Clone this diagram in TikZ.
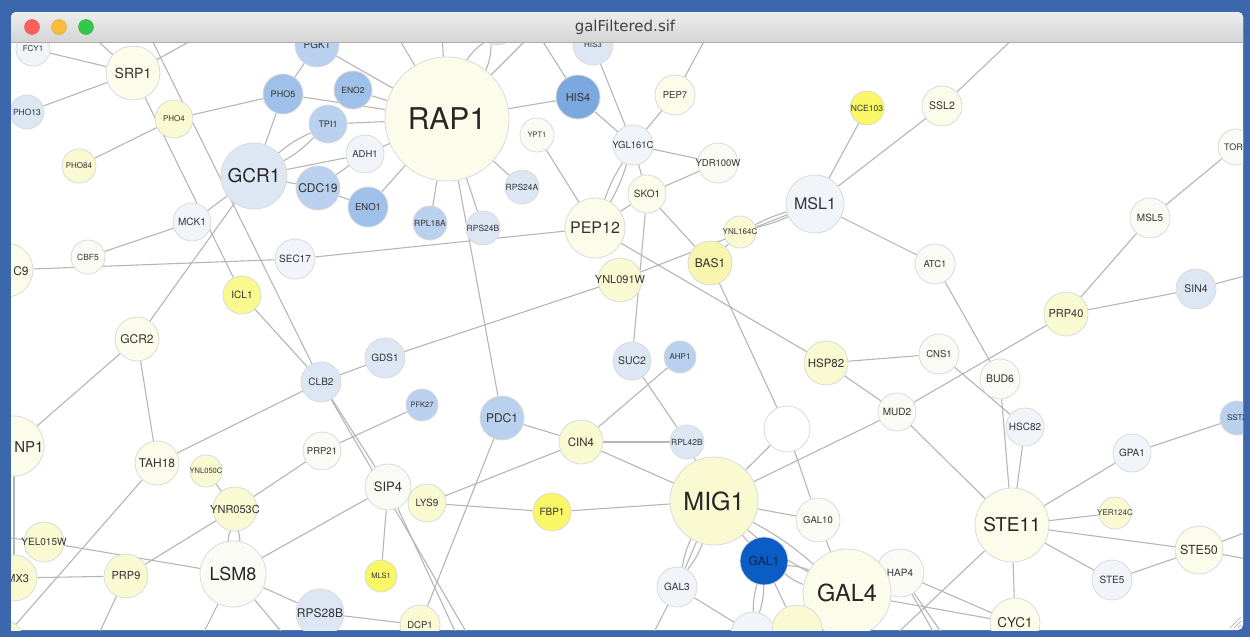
\documentclass[tikz,border=0pt]{standalone}
\usepackage{fontspec}
\setmainfont{TeX Gyre Heros}
\newfontfamily\titlefont{DejaVu Sans}
\newcommand\fs[1]{\fontsize{#1}{#1}\selectfont}
\pgfdeclarelayer{back}
\pgfdeclarelayer{edges}
\pgfsetlayers{back,edges,main}
\definecolor{winblue}{HTML}{3D67AC}
\definecolor{edgec}{HTML}{B6B6B6}
\definecolor{nline}{HTML}{DADADA}
\definecolor{txt}{HTML}{333333}
\definecolor{titletop}{HTML}{EDEDED}
\definecolor{titlebot}{HTML}{D4D4D4}
\definecolor{titleline}{HTML}{ADADAD}
\definecolor{lred}{HTML}{FC605C}
\definecolor{lyellow}{HTML}{FDBC40}
\definecolor{lgreen}{HTML}{34C84A}
\definecolor{y0}{HTML}{FBFBF6}
\definecolor{y1}{HTML}{FCFCEA}
\definecolor{y2}{HTML}{FAFAD2}
\definecolor{y3}{HTML}{F7F5AE}
\definecolor{y4}{HTML}{F9F766}
\definecolor{y5}{HTML}{FAF98E}
\definecolor{b0}{HTML}{F1F4F9}
\definecolor{b1}{HTML}{DDE7F4}
\definecolor{b2}{HTML}{B9D0EE}
\definecolor{b3}{HTML}{9FC1E9}
\definecolor{b4}{HTML}{7CA8E0}
\definecolor{b5}{HTML}{0C5CC6}
\begin{document}
\begin{tikzpicture}[x=1pt,y=-1pt,line cap=round,line join=round,
  gn/.style={circle,draw=nline,line width=0.8pt,fill=#1,inner sep=0pt,text=txt,
    execute at begin node={\hbox to 0pt\bgroup\hss},execute at end node={\hss\egroup}},
  sz/.style 2 args={minimum size=#1,font=\fs{#2}},
  big/.style={text=black!85},
  edge/.style={draw=edgec,line width=1.1pt},
  light/.style={circle,minimum size=15,inner sep=0pt,fill=#1,draw=#1!85!black,line width=0.4pt}]
\useasboundingbox (0,0) rectangle (1250,637);
\begin{pgfonlayer}{back}
\fill[winblue] (0,0) rectangle (1250,637);
\fill[white,rounded corners=5pt] (11,12) rectangle (1243,630);
\end{pgfonlayer}
\begin{scope}
\clip (11,43) rectangle (1243,630);
\node[gn=b0,sz={34}{8}] (fcy1) at (33,49) {FCY1};
\node[gn=y1,sz={54}{14}] (srp1) at (133,73) {SRP1};
\node[gn=b1,sz={34}{8.5}] (pho13) at (27,112) {PHO13};
\node[gn=y2,sz={38}{8}] (pho4) at (174,119) {PHO4};
\node[gn=y2,sz={34}{8}] (pho84) at (79,166) {PHO84};
\node[gn=b2,sz={44}{10}] (pgk1) at (317,45) {PGK1};
\node[gn=b3,sz={40}{9}] (pho5) at (283,94) {PHO5};
\node[gn=b3,sz={38}{8.5}] (eno2) at (353,90) {ENO2};
\node[gn=b2,sz={38}{9}] (tpi1) at (328,124) {TPI1};
\node[gn=b0,sz={38}{9.5}] (adh1) at (365,154) {ADH1};
\node[gn=b1,sz={66}{19},big] (gcr1) at (254,176) {GCR1};
\node[gn=b2,sz={44}{12}] (cdc19) at (318,188) {CDC19};
\node[gn=b3,sz={40}{9.5}] (eno1) at (368,207) {ENO1};
\node[gn=y1,sz={124}{30},big] (rap1) at (447,119) {RAP1};
\node[gn=b1,sz={36}{8}] (hid1) at (497,27) {};
\node[gn=b1,sz={40}{8}] (his3) at (593,45) {HIS3};
\node[gn=b4,sz={44}{11}] (his4) at (578,97) {HIS4};
\node[gn=y1,sz={40}{9.5}] (pep7) at (675,95) {PEP7};
\node[gn=y0,sz={34}{7.5}] (ypt1) at (537,135) {YPT1};
\node[gn=b0,sz={40}{9.5}] (ygl161c) at (633,145) {YGL161C};
\node[gn=y0,sz={40}{9.5}] (ydr100w) at (718,163) {YDR100W};
\node[gn=b1,sz={34}{8.5}] (rps24a) at (522,187) {RPS24A};
\node[gn=b2,sz={34}{8.5}] (rpl18a) at (430,223) {RPL18A};
\node[gn=b1,sz={34}{8.5}] (rps24b) at (483,228) {RPS24B};
\node[gn=y1,sz={38}{10}] (sko1) at (647,194) {SKO1};
\node[gn=y1,sz={60}{16}] (pep12) at (595,228) {PEP12};
\node[gn=b0,sz={58}{16}] (msl1) at (815,204) {MSL1};
\node[gn=y2,sz={32}{8}] (ynl164c) at (740,232) {YNL164C};
\node[gn=y3,sz={44}{12}] (bas1) at (710,263) {BAS1};
\node[gn=y2,sz={44}{11}] (ynl091w) at (620,280) {YNL091W};
\node[gn=y4,sz={34}{8.5}] (nce103) at (867,108) {NCE103};
\node[gn=y1,sz={40}{10.5}] (ssl2) at (942,106) {SSL2};
\node[gn=y0,sz={36}{9}] (tor1) at (1236,147) {TOR1};
\node[gn=y0,sz={40}{10}] (msl5) at (1150,218) {MSL5};
\node[gn=y0,sz={40}{9.5}] (atc1) at (935,264) {ATC1};
\node[gn=b1,sz={40}{10.5}] (sin4) at (1196,289) {SIN4};
\node[gn=y2,sz={44}{11}] (prp40) at (1066,314) {PRP40};
\node[gn=y2,sz={44}{11.5}] (hsp82) at (826,363) {HSP82};
\node[gn=y0,sz={40}{9.5}] (cns1) at (939,354) {CNS1};
\node[gn=y0,sz={40}{10.5}] (bud6) at (1000,379) {BUD6};
\node[gn=y0,sz={38}{10}] (mud2) at (897,412) {MUD2};
\node[gn=b0,sz={38}{10}] (hsc82) at (1025,427) {HSC82};
\node[gn=b2,sz={34}{8}] (sst2) at (1237,418) {SST2};
\node[gn=b0,sz={38}{10}] (gpa1) at (1132,453) {GPA1};
\node[gn=y2,sz={32}{8}] (yer124c) at (1115,513) {YER124C};
\node[gn=y1,sz={74}{19},big] (ste11) at (1012,525) {STE11};
\node[gn=y1,sz={48}{12.5}] (ste50) at (1199,550) {STE50};
\node[gn=b0,sz={40}{10}] (ste5) at (1112,580) {STE5};
\node[gn=y1,sz={50}{13.5}] (cyc1) at (1015,623) {CYC1};
\node[gn=y0,sz={48}{10}] (hap4) at (900,573) {HAP4};
\node[gn=y1,sz={88}{23.5},big] (gal4) at (847,593) {GAL4};
\node[gn=y0,sz={44}{9.5}] (gal10) at (818,520) {GAL10};
\node[gn=white,sz={46}{9}] (nx) at (787,429) {};
\node[gn=b1,sz={34}{8.5}] (rpl42b) at (687,442) {RPL42B};
\node[gn=y2,sz={88}{25},big] (mig1) at (714,501) {MIG1};
\node[gn=b5,sz={48}{12},text=b5!40!black] (gal1) at (764,561) {GAL1};
\node[gn=b0,sz={40}{10}] (gal3) at (677,587) {GAL3};
\node[gn=b0,sz={44}{9}] (gal80) at (753,634) {};
\node[gn=y2,sz={50}{9}] (gal7) at (797,630) {};
\node[gn=b2,sz={44}{12}] (pdc1) at (502,418) {PDC1};
\node[gn=y2,sz={44}{11.5}] (cin4) at (581,442) {CIN4};
\node[gn=b1,sz={38}{10.5}] (suc2) at (632,361) {SUC2};
\node[gn=b2,sz={32}{8}] (ahp1) at (680,357) {AHP1};
\node[gn=b2,sz={32}{7.5}] (pfk27) at (422,405) {PFK27};
\node[gn=y4,sz={38}{10}] (fbp1) at (552,512) {FBP1};
\node[gn=y2,sz={38}{10}] (lys9) at (427,503) {LYS9};
\node[gn=y0,sz={46}{13}] (sip4) at (388,487) {SIP4};
\node[gn=y4,sz={32}{7.5}] (mls1) at (381,576) {MLS1};
\node[gn=y2,sz={40}{9.5}] (dcp1) at (420,625) {DCP1};
\node[gn=b1,sz={48}{12}] (rps28b) at (320,613) {RPS28B};
\node[gn=y0,sz={66}{18},big] (lsm8) at (233,574) {LSM8};
\node[gn=y2,sz={44}{11}] (ynr053c) at (235,509) {YNR053C};
\node[gn=y2,sz={32}{7.5}] (ynl050c) at (206,471) {YNL050C};
\node[gn=y0,sz={38}{9.5}] (prp21) at (322,451) {PRP21};
\node[gn=y1,sz={44}{12}] (tah18) at (157,463) {TAH18};
\node[gn=y2,sz={44}{11}] (prp9) at (126,576) {PRP9};
\node[gn=y2,sz={40}{10}] (yel015w) at (44,542) {YEL015W};
\node[gn=y2,sz={46}{11}] (smx3) at (14,578) {SMX3};
\node[gn=y1,sz={60}{16}] (snp1) at (14,446) {};
\node[gn=y1,sz={54}{13}] (sec9) at (6,270) {};
\node[gn=y0,sz={34}{8.5}] (cbf5) at (88,257) {CBF5};
\node[gn=b0,sz={38}{10}] (mck1) at (192,222) {MCK1};
\node[gn=b0,sz={40}{10}] (sec17) at (295,259) {SEC17};
\node[gn=y5,sz={38}{10}] (icl1) at (242,295) {ICL1};
\node[gn=y1,sz={44}{12}] (gcr2) at (137,339) {GCR2};
\node[gn=b1,sz={40}{10}] (clb2) at (321,382) {CLB2};
\node[gn=b1,sz={40}{10}] (gds1) at (385,358) {GDS1};
\node[gn=y2,sz={36}{9}] (cnr) at (4,638) {};
\node[font=\fs{15},text=txt,inner sep=0pt] (snp1text) at (29,447) {NP1};
\node[font=\fs{12},text=txt,inner sep=0pt] (sec9text) at (21,271) {C9};
\end{scope}
\coordinate (t1) at (90,34);
\coordinate (t2) at (203,34);
\coordinate (t3) at (149,34);
\coordinate (t4) at (396,34);
\coordinate (t5) at (442,34);
\coordinate (t6) at (532,34);
\coordinate (t7) at (538,34);
\coordinate (t8) at (708,34);
\coordinate (t9) at (1018,34);
\coordinate (r1) at (1252,274);
\coordinate (r2) at (1252,530);
\coordinate (r3) at (1252,560);
\coordinate (l1) at (2,537);
\coordinate (b1) at (472,642);
\coordinate (b2) at (460,642);
\coordinate (b3) at (888,642);
\coordinate (b4) at (199,642);
\coordinate (b5) at (290,642);
\coordinate (b6) at (95,642);
\coordinate (b7) at (649,642);
\coordinate (b8) at (939,642);
\coordinate (b9) at (948,642);
\begin{pgfonlayer}{edges}
\clip (11,43) rectangle (1243,630);
\draw[edge] (fcy1) -- (srp1);
\draw[edge] (srp1) -- (t1);
\draw[edge] (srp1) -- (t2);
\draw[edge] (srp1) -- (pho13);
\draw[edge] (srp1) -- (icl1);
\draw[edge] (t3) -- (clb2);
\draw[edge] (pho4) -- (pho84);
\draw[edge] (pho4) -- (pho5);
\draw[edge] (pho5) -- (pgk1);
\draw[edge] (pho5) -- (gcr1);
\draw[edge] (pho5) -- (rap1);
\draw[edge] (pgk1) -- (rap1);
\draw[edge] (eno2) -- (rap1);
\draw[edge] (tpi1) -- (rap1);
\draw[edge] (gcr1) to[bend left=8] (tpi1);
\draw[edge] (gcr1) to[bend right=8] (tpi1);
\draw[edge] (gcr1) -- (adh1);
\draw[edge] (adh1) -- (rap1);
\draw[edge] (gcr1) -- (cdc19);
\draw[edge] (cdc19) -- (adh1);
\draw[edge] (cdc19) -- (eno1);
\draw[edge] (eno1) -- (rap1);
\draw[edge] (gcr1) -- (mck1);
\draw[edge] (gcr1) -- (gcr2);
\draw[edge] (rap1) -- (rpl18a);
\draw[edge] (rap1) -- (rps24b);
\draw[edge] (rap1) -- (rps24a);
\draw[edge] (rap1) -- (his4);
\draw[edge] (rap1) -- (t4);
\draw[edge] (rap1) -- (t5);
\draw[edge] (rap1) to[bend left=10] (hid1);
\draw[edge] (rap1) to[bend right=10] (hid1);
\draw[edge] (rap1) -- (t6);
\draw[edge] (rap1) -- (pdc1);
\draw[edge] (his4) -- (t7);
\draw[edge] (his4) -- (ygl161c);
\draw[edge] (his3) -- (ygl161c);
\draw[edge] (pep7) -- (ygl161c);
\draw[edge] (pep7) -- (t8);
\draw[edge] (ygl161c) -- (ydr100w);
\draw[edge] (ygl161c) to[bend left=6] (pep12);
\draw[edge] (ygl161c) to[bend right=6] (pep12);
\draw[edge] (ygl161c) -- (sko1);
\draw[edge] (ypt1) -- (pep12);
\draw[edge] (sko1) -- (pep12);
\draw[edge] (sko1) -- (ydr100w);
\draw[edge] (sko1) -- (suc2);
\draw[edge] (sko1) -- (bas1);
\draw[edge] (msl1) to[bend left=5] (ynl164c);
\draw[edge] (msl1) to[bend right=5] (ynl164c);
\draw[edge] (msl1) -- (ynl091w);
\draw[edge] (ynl164c) -- (bas1);
\draw[edge] (pep12) -- (hsp82);
\draw[edge] (bas1) -- (nx);
\draw[edge] (msl1) -- (nce103);
\draw[edge] (msl1) -- (ssl2);
\draw[edge] (ssl2) -- (t9);
\draw[edge] (msl1) -- (atc1);
\draw[edge] (atc1) -- (bud6);
\draw[edge] (prp40) -- (msl5);
\draw[edge] (prp40) -- (sin4);
\draw[edge] (sin4) -- (r1);
\draw[edge] (msl5) -- (tor1);
\draw[edge] (prp40) -- (mud2);
\draw[edge] (hsp82) -- (cns1);
\draw[edge] (hsp82) -- (mud2);
\draw[edge] (cns1) -- (hsc82);
\draw[edge] (bud6) -- (ste11);
\draw[edge] (hsc82) -- (ste11);
\draw[edge] (mud2) -- (ste11);
\draw[edge] (mud2) -- (mig1);
\draw[edge] (nx) -- (mig1);
\draw[edge] (nx) -- (gal10);
\draw[edge] (gpa1) -- (ste11);
\draw[edge] (gpa1) -- (sst2);
\draw[edge] (ste11) -- (yer124c);
\draw[edge] (ste11) -- (ste50);
\draw[edge] (ste11) -- (ste5);
\draw[edge] (ste5) -- (ste50);
\draw[edge] (ste11) -- (cyc1);
\draw[edge] (ste50) -- (r2);
\draw[edge] (ste50) -- (r3);
\draw[edge] (ste11) -- (b3);
\draw[edge] (gal4) -- (cyc1);
\draw[edge] (hap4) -- (cyc1);
\draw[edge] (hap4) -- (b8);
\draw[edge] (hap4) -- (b9);
\draw[edge] (gal4) -- (gal10);
\draw[edge] (mig1) to[bend left=6] (gal4);
\draw[edge] (mig1) to[bend right=6] (gal4);
\draw[edge] (gal1) to[bend left=10] (gal4);
\draw[edge] (gal1) to[bend right=10] (gal4);
\draw[edge] (gal1) -- (mig1);
\draw[edge] (gal1) to[bend left=8] (gal80);
\draw[edge] (gal1) to[bend right=8] (gal80);
\draw[edge] (gal1) -- (gal7);
\draw[edge] (mig1) -- (gal3);
\draw[edge] (mig1) to[bend left=8] (gal3);
\draw[edge] (mig1) to[bend right=8] (gal3);
\draw[edge] (gal3) -- (b7);
\draw[edge] (gal3) -- (gal80);
\draw[edge] (mig1) -- (gal10);
\draw[edge] (mig1) -- (rpl42b);
\draw[edge] (mig1) -- (cin4);
\draw[edge] (mig1) -- (fbp1);
\draw[edge] (rpl42b) -- (cin4);
\draw[edge] (rpl42b) -- (suc2);
\draw[edge] (cin4) -- (ahp1);
\draw[edge] (cin4) -- (pdc1);
\draw[edge] (cin4) -- (lys9);
\draw[edge] (fbp1) -- (lys9);
\draw[edge] (pdc1) -- (dcp1);
\draw[edge] (pfk27) -- (prp21);
\draw[edge] (prp21) -- (ynr053c);
\draw[edge] (ynl050c) -- (ynr053c);
\draw[edge] (ynr053c) to[bend left=10] (lsm8);
\draw[edge] (ynr053c) to[bend right=10] (lsm8);
\draw[edge] (ynr053c) -- (prp9);
\draw[edge] (lsm8) -- (sip4);
\draw[edge] (lsm8) -- (yel015w);
\draw[edge] (yel015w) -- (l1);
\draw[edge] (lsm8) -- (rps28b);
\draw[edge] (lsm8) -- (b4);
\draw[edge] (lsm8) -- (b5);
\draw[edge] (rps28b) -- (dcp1);
\draw[edge] (sip4) -- (mls1);
\draw[edge] (sip4) -- (b2);
\draw[edge] (clb2) -- (sip4);
\draw[edge] (clb2) -- (b1);
\draw[edge] (prp9) -- (smx3);
\draw[edge] (prp9) -- (b6);
\draw[edge] (tah18) -- (gcr2);
\draw[edge] (tah18) -- (clb2);
\draw[edge] (tah18) -- (cnr);
\draw[edge] (gcr2) -- (snp1);
\draw[edge] (snp1) -- (smx3);
\draw[edge] (cbf5) -- (mck1);
\draw[edge] (sec9) -- (sec17);
\draw[edge] (sec17) -- (pep12);
\draw[edge] (icl1) -- (clb2);
\draw[edge] (clb2) -- (gds1);
\draw[edge] (gds1) -- (ynl091w);
\end{pgfonlayer}
\begin{scope}
\clip[rounded corners=5pt] (11,12) rectangle (1243,70);
\shade[top color=titletop,bottom color=titlebot] (11,12) rectangle (1243,42.5);
\end{scope}
\draw[titleline,line width=0.8pt] (11,42.5) -- (1243,42.5);
\node[light=lred] (close) at (32,27) {};
\node[light=lyellow] (mini) at (59,27) {};
\node[light=lgreen] (zoom) at (86,27) {};
\node[font=\titlefont\fs{15},text=black!75] (title) at (625,27) {galFiltered.sif};
\draw[gray!70] (1230,628) -- (1241,617) (1234,628) -- (1241,621) (1238,628) -- (1241,625);
\end{tikzpicture}
\end{document}
